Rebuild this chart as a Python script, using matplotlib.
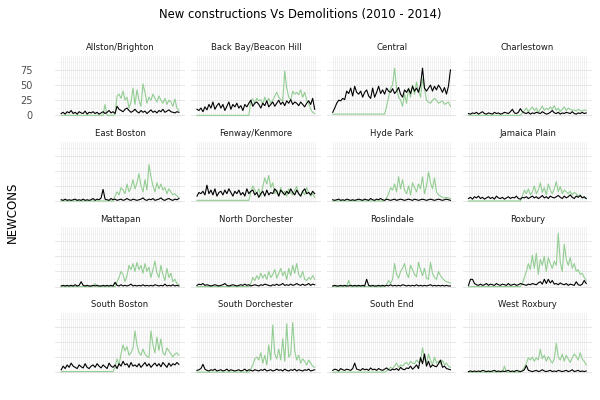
"""Facet grid: monthly new constructions vs demolitions per Boston neighborhood."""

import matplotlib

matplotlib.use("Agg")
import matplotlib.pyplot as plt
import numpy as np

NEIGHBORHOODS = [
    "Allston/Brighton", "Back Bay/Beacon Hill", "Central", "Charlestown",
    "East Boston", "Fenway/Kenmore", "Hyde Park", "Jamaica Plain",
    "Mattapan", "North Dorchester", "Roslindale", "Roxbury",
    "South Boston", "South Dorchester", "South End", "West Roxbury",
]

# black line (demolitions), 60 monthly values each
demo_allston = [3, 5, 2, 6, 4, 8, 3, 5, 2, 6, 4, 3, 7, 2, 5, 4, 6, 3, 5, 2,
                4, 6, 3, 5, 8, 4, 6, 3, 15, 10, 8, 6, 10, 12, 8, 5, 7, 10, 6, 4,
                8, 5, 7, 3, 6, 9, 5, 7, 4, 8, 6, 10, 5, 7, 9, 6, 5, 4, 6, 5]
demo_backbay = [10, 8, 12, 6, 14, 9, 18, 12, 22, 10, 16, 20, 12, 18, 8, 15, 22, 10, 18, 14,
                20, 12, 16, 8, 18, 14, 20, 25, 15, 20, 22, 18, 12, 20, 16, 24, 14, 18, 22, 15,
                20, 25, 18, 22, 16, 24, 20, 26, 18, 22, 20, 16, 22, 18, 14, 20, 24, 18, 28, 10]
demo_central = [5, 12, 20, 25, 24, 28, 26, 40, 36, 45, 32, 48, 38, 35, 40, 30, 38, 42, 32, 28,
                45, 30, 38, 48, 36, 42, 35, 45, 40, 38, 44, 36, 40, 46, 35, 30, 42, 38, 44, 36,
                48, 40, 45, 38, 50, 78, 45, 40, 45, 50, 40, 48, 42, 50, 45, 38, 46, 35, 48, 75]
demo_charlestown = [3, 2, 4, 3, 5, 2, 4, 6, 3, 2, 4, 3, 2, 5, 3, 4, 2, 3, 5, 4,
                    3, 6, 10, 4, 3, 5, 11, 6, 4, 3, 5, 2, 4, 3, 5, 4, 3, 6, 4, 2,
                    3, 5, 8, 4, 3, 5, 2, 4, 3, 5, 4, 3, 6, 3, 2, 4, 3, 5, 3, 4]
demo_eastboston = [2, 1, 3, 1, 2, 1, 2, 3, 1, 2, 1, 3, 1, 2, 1, 2, 4, 1, 3, 2,
                   5, 19, 3, 2, 1, 4, 2, 3, 1, 2, 3, 1, 2, 4, 2, 1, 3, 2, 1, 2,
                   3, 5, 2, 1, 3, 2, 4, 1, 2, 3, 5, 2, 1, 3, 4, 2, 1, 3, 2, 4]
demo_fenway = [8, 14, 12, 16, 10, 26, 12, 18, 10, 20, 8, 14, 16, 10, 18, 12, 20, 14, 8, 16,
               12, 18, 10, 14, 8, 20, 12, 16, 18, 10, 14, 6, 12, 16, 8, 18, 10, 14, 12, 20,
               16, 8, 18, 14, 10, 16, 12, 20, 14, 10, 18, 12, 8, 16, 20, 12, 14, 10, 16, 12]
demo_hydepark = [2, 1, 2, 3, 1, 2, 1, 3, 2, 1, 2, 1, 2, 3, 2, 1, 3, 2, 1, 4,
                 2, 1, 3, 2, 4, 2, 1, 3, 2, 1, 2, 3, 1, 2, 3, 2, 1, 2, 3, 2,
                 1, 3, 2, 1, 2, 3, 2, 1, 2, 3, 2, 1, 2, 3, 2, 1, 2, 3, 2, 1]
demo_jamaica = [4, 6, 3, 7, 5, 8, 4, 6, 3, 5, 7, 4, 6, 3, 8, 5, 4, 6, 3, 5,
                7, 4, 6, 5, 8, 4, 3, 6, 5, 7, 4, 6, 8, 5, 7, 4, 6, 9, 5, 7,
                4, 8, 6, 5, 7, 9, 6, 4, 8, 5, 7, 10, 6, 4, 8, 6, 9, 5, 7, 4]
demo_mattapan = [1, 2, 1, 2, 1, 2, 1, 3, 1, 2, 8, 2, 1, 2, 1, 1, 2, 1, 2, 1,
                 1, 2, 1, 2, 1, 2, 1, 7, 2, 1, 3, 1, 2, 1, 2, 4, 1, 2, 1, 2,
                 1, 3, 1, 2, 1, 2, 1, 3, 2, 1, 2, 1, 4, 1, 2, 1, 3, 1, 2, 1]
demo_northdor = [2, 4, 3, 5, 2, 3, 2, 1, 2, 3, 2, 1, 2, 3, 5, 2, 1, 2, 3, 2,
                 1, 2, 3, 2, 4, 2, 3, 1, 2, 3, 2, 1, 3, 2, 4, 3, 2, 1, 3, 2,
                 4, 2, 3, 5, 2, 3, 2, 4, 2, 3, 5, 3, 2, 4, 2, 3, 5, 2, 4, 3]
demo_roslindale = [1, 2, 1, 1, 2, 1, 2, 1, 1, 2, 1, 2, 1, 2, 1, 2, 1, 12, 2, 1,
                   2, 1, 1, 2, 1, 2, 1, 2, 1, 3, 1, 2, 1, 2, 1, 3, 2, 1, 2, 1,
                   2, 1, 3, 1, 2, 1, 2, 1, 2, 3, 1, 2, 1, 2, 1, 2, 1, 2, 1, 1]
demo_roxbury = [2, 12, 12, 5, 3, 2, 4, 2, 3, 5, 2, 4, 3, 2, 5, 3, 2, 4, 3, 2,
                5, 2, 3, 4, 2, 3, 5, 4, 3, 2, 4, 3, 5, 4, 3, 6, 8, 4, 12, 5,
                12, 6, 10, 4, 5, 3, 6, 4, 3, 5, 2, 4, 3, 2, 8, 3, 2, 4, 10, 5]
demo_southboston = [4, 10, 6, 12, 8, 15, 10, 8, 6, 12, 9, 7, 14, 8, 6, 10, 12, 8, 14, 10,
                    7, 12, 9, 6, 15, 10, 8, 12, 6, 14, 10, 18, 12, 14, 8, 16, 10, 12, 9, 14,
                    8, 12, 16, 10, 14, 8, 12, 15, 10, 14, 9, 16, 12, 8, 15, 10, 14, 12, 16, 13]
demo_southdor = [3, 4, 6, 13, 5, 3, 2, 4, 3, 5, 2, 3, 4, 2, 3, 5, 2, 4, 3, 2,
                 3, 4, 2, 3, 5, 2, 4, 3, 2, 4, 3, 2, 4, 3, 5, 2, 3, 4, 2, 3,
                 5, 3, 4, 2, 5, 3, 2, 4, 3, 5, 2, 4, 3, 2, 4, 3, 5, 2, 3, 4]
demo_southend = [3, 5, 4, 2, 6, 4, 3, 5, 4, 3, 6, 15, 5, 4, 3, 6, 4, 5, 3, 7,
                 4, 5, 3, 6, 4, 3, 5, 7, 4, 3, 5, 4, 6, 3, 8, 5, 4, 7, 6, 10,
                 5, 8, 12, 6, 24, 14, 30, 10, 18, 8, 12, 10, 9, 14, 20, 8, 10, 6, 5, 4]
demo_westrox = [1, 2, 1, 2, 1, 2, 1, 3, 2, 1, 2, 1, 2, 3, 1, 2, 1, 2, 1, 2,
                3, 1, 2, 1, 3, 2, 1, 2, 4, 11, 3, 2, 1, 2, 3, 1, 2, 4, 2, 1,
                2, 3, 1, 2, 1, 3, 2, 1, 2, 3, 1, 2, 4, 1, 2, 3, 1, 2, 1, 2]

# green line (new constructions), flat before the permits start
newc_allston = [0] * 22 + [18, 0, 0, 0, 0, 2] + [
    32, 35, 28, 40, 25, 30, 12, 22, 45, 18, 42, 25, 15, 52, 38, 20, 30, 25, 35, 28,
    22, 32, 25, 20, 28, 18, 25, 22, 15, 27, 12, 8]
newc_backbay = [0] * 27 + [
    25, 27, 20, 28, 24, 26, 18, 30, 22, 28, 20, 25, 32, 38, 30, 26, 24, 73, 45, 30,
    25, 40, 35, 38, 34, 42, 30, 38, 25, 20, 10, 5, 3]
newc_central = [2] * 27 + [
    15, 30, 45, 50, 78, 45, 30, 25, 15, 35, 20, 45, 30, 50, 35, 55, 40, 30, 60, 45,
    25, 22, 20, 25, 28, 25, 20, 22, 24, 18, 20, 22, 15]
newc_charlestown = [0] * 27 + [
    4, 8, 12, 6, 10, 14, 8, 12, 5, 10, 15, 8, 12, 9, 14, 10, 16, 8, 12, 6,
    10, 14, 8, 12, 10, 8, 9, 7, 10, 8, 7, 9, 8]
newc_eastboston = [0] * 27 + [
    8, 15, 10, 22, 18, 12, 28, 15, 22, 35, 20, 30, 45, 25, 15, 35, 18, 60, 40, 25,
    15, 30, 20, 28, 18, 22, 12, 20, 15, 10, 12, 8, 6]
newc_fenway = [1] * 27 + [
    15, 25, 18, 12, 20, 8, 24, 38, 28, 42, 22, 30, 12, 18, 8, 22, 12, 16, 8, 20,
    14, 10, 18, 24, 12, 8, 16, 10, 22, 14, 8, 12, 6]
newc_hydepark = [0] * 27 + [
    5, 12, 22, 18, 28, 15, 40, 20, 35, 18, 12, 25, 10, 30, 22, 15, 28, 20, 40, 12,
    25, 48, 30, 20, 38, 15, 10, 8, 6, 5, 6, 5, 4]
newc_jamaica = [0] * 27 + [
    8, 18, 12, 20, 10, 15, 25, 12, 18, 30, 14, 22, 10, 28, 18, 12, 20, 32, 15, 24,
    12, 18, 15, 12, 16, 10, 14, 12, 8, 10, 6, 5, 4]
newc_mattapan = [0] * 17 + [5] + [0] * 10 + [
    8, 15, 25, 20, 8, 18, 35, 28, 38, 25, 40, 28, 35, 22, 38, 25, 32, 15, 28, 42,
    22, 15, 35, 20, 10, 30, 15, 22, 8, 12, 5, 3]
newc_northdor = [0] * 27 + [
    5, 15, 10, 18, 12, 22, 14, 20, 12, 25, 15, 20, 28, 14, 22, 30, 18, 25, 12, 30,
    18, 35, 22, 38, 20, 15, 25, 12, 10, 15, 12, 18, 12]
newc_roslindale = [0] * 8 + [10] + [0] * 18 + [
    3, 10, 5, 12, 38, 20, 14, 25, 30, 38, 22, 15, 35, 28, 20, 16, 40, 28, 18, 30,
    14, 12, 40, 22, 15, 12, 25, 18, 14, 10, 8, 7, 6]
newc_roxbury = [0] * 27 + [
    5, 15, 25, 38, 28, 52, 30, 55, 20, 45, 35, 50, 25, 48, 38, 30, 42, 35, 88, 40,
    25, 70, 45, 35, 48, 30, 38, 25, 28, 20, 22, 15, 10]
newc_southboston = [1] * 27 + [
    8, 22, 12, 30, 45, 35, 42, 28, 32, 40, 68, 45, 32, 28, 38, 30, 26, 24, 68, 45,
    32, 58, 36, 55, 32, 28, 40, 35, 30, 25, 30, 32, 28]
newc_southdor = [0] * 27 + [
    5, 12, 22, 25, 20, 32, 15, 28, 12, 45, 20, 78, 30, 22, 38, 20, 55, 18, 80, 25,
    30, 82, 35, 20, 28, 15, 22, 18, 12, 20, 15, 10, 8]
newc_southend = [0] * 27 + [
    2, 5, 8, 6, 10, 15, 8, 12, 10, 14, 16, 12, 18, 15, 14, 20, 16, 18, 40, 22,
    15, 30, 20, 12, 25, 15, 18, 14, 20, 12, 15, 10, 8]
newc_westrox = [0] * 18 + [10] + [0] * 8 + [
    3, 8, 15, 24, 20, 25, 18, 24, 20, 38, 22, 28, 18, 26, 20, 15, 22, 48, 25, 20,
    30, 18, 28, 22, 16, 24, 30, 26, 20, 32, 22, 18, 12]

DEMOS = [demo_allston, demo_backbay, demo_central, demo_charlestown,
         demo_eastboston, demo_fenway, demo_hydepark, demo_jamaica,
         demo_mattapan, demo_northdor, demo_roslindale, demo_roxbury,
         demo_southboston, demo_southdor, demo_southend, demo_westrox]
NEWCONS = [newc_allston, newc_backbay, newc_central, newc_charlestown,
           newc_eastboston, newc_fenway, newc_hydepark, newc_jamaica,
           newc_mattapan, newc_northdor, newc_roslindale, newc_roxbury,
           newc_southboston, newc_southdor, newc_southend, newc_westrox]

Y_TICKS = [0, 25, 50, 75]
GREEN = "#93cd93"


def main():
    fig, axes = plt.subplots(4, 4, figsize=(6, 4), dpi=100, sharex=True, sharey=True)
    fig.subplots_adjust(left=0.092, right=0.987, top=0.86, bottom=0.065,
                        wspace=0.047, hspace=0.4)

    for i, ax in enumerate(axes.flat):
        x = np.arange(len(DEMOS[i]))
        for v in x:
            ax.axvline(v, color="#e6e6e6", linewidth=0.4, zorder=0)
        for y in Y_TICKS:
            ax.axhline(y, color="#e2e2e2", linewidth=0.6, zorder=0)
            ax.axhline(y + 12.5, color="#efefef", linewidth=0.4, zorder=0)
        ax.plot(np.arange(len(NEWCONS[i])), NEWCONS[i], color=GREEN, linewidth=0.8)
        ax.plot(x, DEMOS[i], color="black", linewidth=0.8)
        ax.set_title(NEIGHBORHOODS[i], fontsize=6.1, color="#1a1a1a", pad=4)
        ax.set_xlim(-3, 62)
        ax.set_ylim(-3, 98)
        ax.set_xticks([])
        ax.set_yticks(Y_TICKS)
        ax.tick_params(axis="y", length=0, labelsize=7, labelcolor="#4d4d4d", pad=16)
        for s in ax.spines.values():
            s.set_visible(False)
        if i != 0:
            ax.tick_params(axis="y", labelleft=False)

    fig.suptitle("New constructions Vs Demolitions (2010 - 2014)", fontsize=8.4, y=0.98)
    fig.text(0.02, 0.47, "NEWCONS", rotation=90, va="center", ha="center", fontsize=8.5)
    fig.savefig("out.png", dpi=100)
    plt.close(fig)


if __name__ == "__main__":
    main()
